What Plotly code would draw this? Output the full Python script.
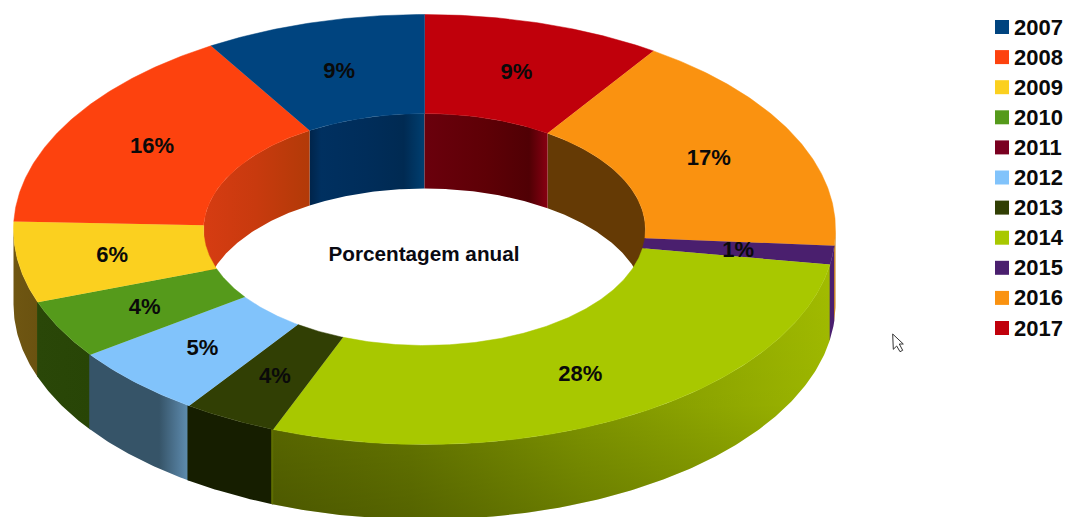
import numpy as np
import plotly.graph_objects as go

years = ["2007", "2008", "2009", "2010", "2011", "2012", "2013", "2014", "2015", "2016", "2017"]
shares = [8.7, 15.7, 6.1, 4.4, 0.0, 5.4, 3.7, 28.4, 1.4, 16.8, 9.4]
labels = ["9%", "16%", "6%", "4%", "", "5%", "4%", "28%", "1%", "17%", "9%"]
colors = ["#00447f", "#fd420e", "#fbd01f", "#559a1b", "#7a0020", "#81c3fb",
          "#313f04", "#a8c800", "#4a1f6e", "#fa9210", "#c0000b"]
title_text = "Porcentagem anual"

# horizontal shading of the side walls (position 0..1 across each wall)
outer_shade = {
    "2009": [(0, "#6f5612"), (1, "#6a5210")],
    "2010": [(0, "#2a4708"), (1, "#284506")],
    "2012": [(0, "#365468"), (0.7, "#365468"), (0.92, "#557f9f"), (1, "#5f8fb0")],
    "2013": [(0, "#161e00"), (1, "#161e00")],
    "2014": [(0, "#5e6d00"), (0.25, "#6a7c00"), (0.55, "#839a00"), (0.8, "#94ad00"), (1, "#a2bc00")],
    "2015": [(0, "#4a1f6f"), (1, "#4a1f6f")],
    "2016": [(0, "#c47a10"), (1, "#c47a10")],
}
inner_shade = {
    "2007": [(0, "#00244a"), (0.1, "#003060"), (0.5, "#002d5a"), (0.82, "#002a52"), (1, "#003f70")],
    "2008": [(0, "#d63c12"), (0.5, "#c83a0e"), (1, "#b23a08")],
    "2016": [(0, "#653a05"), (1, "#653a05")],
    "2017": [(0, "#6a000c"), (0.5, "#5e0006"), (0.85, "#500004"), (1, "#880012")],
}

CX, CY, RX, RY, HX, HY, DEPTH = 424.5, 229.5, 411.0, 215.0, 221.0, 116.0, 75.0
LABEL_FONT = dict(family="Liberation Sans", size=22, color="#0a0a0a", weight="bold")


def arc(a, b, rx, ry, dy=0.0):
    t = np.radians(np.linspace(a, b, max(int(abs(b - a) * 2), 2) + 1))
    return CX + rx * np.sin(t), CY - ry * np.cos(t) + dy


# clockwise from the top, starting at the last year
order = list(range(len(years) - 1, -1, -1))
angles = {}
pos = 0.0
total = sum(shares)
for i in order:
    angles[years[i]] = (pos, pos + 360.0 * shares[i] / total)
    pos += 360.0 * shares[i] / total

fig = go.Figure()


def wall(lo, hi, rx, ry, stops, kind="horizontal"):
    x1, y1 = arc(lo, hi, rx, ry)
    x2, y2 = arc(hi, lo, rx, ry, DEPTH)
    xs = np.concatenate([x1, x2])
    ys = np.concatenate([y1, y2])
    scale = [[p, c] for p, c in stops]
    span = (xs.min(), xs.max()) if kind == "horizontal" else (ys.min(), ys.max())
    fig.add_trace(go.Scatter(
        x=xs, y=ys, mode="lines", fill="toself", line=dict(width=0),
        fillgradient=dict(type=kind, colorscale=scale,
                          start=float(span[0]), stop=float(span[1])),
        hoverinfo="skip", showlegend=False))


# outer walls: front half only, right to left, each slightly under the next
for y, stops in outer_shade.items():
    a, b = angles[y]
    lo, hi = max(a, 90), min(b, 270)
    if hi > lo:
        wall(lo, min(hi + 0.3, 270), RX, RY, stops)
    if y == "2014":
        wall(lo, hi, RX, RY, [(0, "rgba(0,0,0,0)"), (0.55, "rgba(0,0,0,0.04)"), (1, "rgba(0,0,0,0.2)")], "vertical")

# inner walls: back half only
for y, stops in inner_shade.items():
    a, b = angles[y]
    a2, b2 = (a - 360, b - 360) if a > 180 else (a, b)
    lo, hi = max(a2, -90), min(b2, 90)
    if hi > lo:
        wall(lo, hi, HX, HY, stops)

# top faces
for i in order:
    if shares[i] <= 0:
        continue
    a, b = angles[years[i]]
    x1, y1 = arc(a, b, RX, RY)
    x2, y2 = arc(b, a, HX, HY)
    fig.add_trace(go.Scatter(
        x=np.concatenate([x1, x2]), y=np.concatenate([y1, y2]),
        mode="lines", fill="toself", fillcolor=colors[i],
        line=dict(width=0.5, color=colors[i]),
        name=years[i], hoverinfo="name", showlegend=False))

# percentage labels at mid-ring
lx, ly, lt = [], [], []
for i in order:
    if not labels[i]:
        continue
    a, b = angles[years[i]]
    m = np.radians((a + b) / 2)
    lx.append(CX + (RX + HX) / 2 * np.sin(m))
    ly.append(CY - (RY + HY) / 2 * np.cos(m) + 2)
    lt.append(labels[i])
fig.add_trace(go.Scatter(
    x=lx, y=ly, text=lt, mode="text", textposition="middle center",
    textfont=LABEL_FONT, hoverinfo="skip", showlegend=False))

# centre title
fig.add_trace(go.Scatter(
    x=[424], y=[256], text=[title_text], mode="text", textposition="middle center",
    textfont=dict(family="Liberation Sans", size=20.7, color="#0a0a12", weight="bold"),
    hoverinfo="skip", showlegend=False))

# key
key_y = [27 + 30.1 * k for k in range(len(years))]
fig.add_trace(go.Scatter(
    x=[1002] * len(years), y=key_y, mode="markers",
    marker=dict(symbol="square", size=14, color=colors, line=dict(width=0)),
    hoverinfo="skip", showlegend=False))
fig.add_trace(go.Scatter(
    x=[1014] * len(years), y=[v + 2 for v in key_y], text=years, mode="text",
    textposition="middle right", textfont=LABEL_FONT, hoverinfo="skip", showlegend=False))

fig.update_layout(
    width=1066, height=517, autosize=False,
    margin=dict(l=0, r=0, t=0, b=0),
    paper_bgcolor="white", plot_bgcolor="white",
    xaxis=dict(range=[0, 1066], visible=False, fixedrange=True),
    yaxis=dict(range=[517, 0], visible=False, fixedrange=True),
    shapes=[dict(type="path", xref="x", yref="y",
                 path="M892.7,334 L893.3,349.3 L896.7,346 L900,351.7 L902.7,350.3 L899.3,344 L903.3,344 Z",
                 fillcolor="white", line=dict(color="#333333", width=1))],
)

fig.write_html("out.html", config={"displayModeBar": False},
               post_script="document.body.style.margin='0';document.documentElement.style.overflow='hidden';")
